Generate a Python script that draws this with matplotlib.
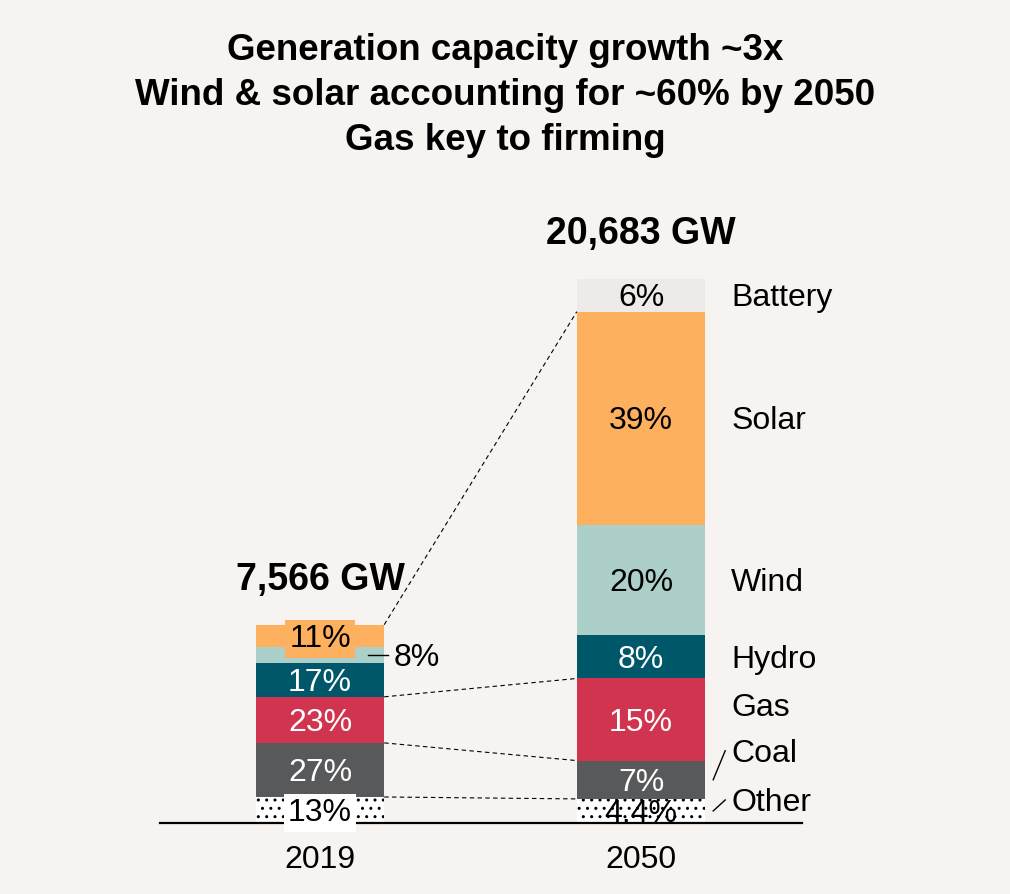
import matplotlib.pyplot as plt

plt.rcParams["font.family"] = ["Liberation Sans", "DejaVu Sans"]

BG = "#F6F3F0"

# chart data
years = ["2019", "2050"]
totals_gw = [7566, 20683]
total_labels = ["7,566 GW", "20,683 GW"]
categories = ["Other", "Coal", "Gas", "Hydro", "Wind", "Solar", "Battery"]
share_2019 = [13, 27, 23, 17, 8, 11, 0]
share_2050 = [4.4, 7, 15, 8, 20, 39, 6]
labels_2019 = ["13%", "27%", "23%", "17%", "8%", "11%", ""]
labels_2050 = ["4.4%", "7%", "15%", "8%", "20%", "39%", "6%"]
title_lines = [
    "Generation capacity growth ~3x",
    "Wind & solar accounting for ~60% by 2050",
    "Gas key to firming",
]

colors = {
    "Other": "white",
    "Coal": "#58595B",
    "Gas": "#D1344F",
    "Hydro": "#00576A",
    "Wind": "#ADCFC9",
    "Solar": "#FDB05E",
    "Battery": "#EEEAE7",
}
white_text = {"Coal", "Gas", "Hydro"}
# boundaries joined by dashed lines between the two bars (top of these segments)
linked = ["Other", "Coal", "Gas", "Solar"]
# vertical nudge (px) of the right-hand category labels
label_nudge_px = {"Gas": 15, "Coal": 29, "Other": 11}

W = 0.4
FS = 23
YMAX = 23800

fig = plt.figure(figsize=(10.1, 8.94), dpi=100, facecolor=BG)
ax = fig.add_axes([159.5 / 1010, 71 / 894, 642 / 1010, 630 / 894])
ax.patch.set_visible(False)
ax.set_xlim(-0.5, 1.5)
ax.set_ylim(0, YMAX)
gw_per_px = YMAX / 630.0
x_per_px = 2.0 / 642.0
dy_txt = -3 * gw_per_px  # centre the digits rather than the text box

tops = []
centers = []
for i, (shares, labels) in enumerate(zip([share_2019, share_2050], [labels_2019, labels_2050])):
    bottom = 0.0
    t, c = {}, {}
    for cat, s, lab in zip(categories, shares, labels):
        h = totals_gw[i] * s / 100.0
        if h <= 0:
            continue
        ax.bar(i, h, W, bottom=bottom, color=colors[cat], edgecolor="black",
               linewidth=0, hatch=".." if cat == "Other" else None, zorder=2)
        t[cat] = bottom + h
        c[cat] = bottom + h / 2
        bottom += h
    tops.append(t)
    centers.append(c)
    ax.annotate(total_labels[i], xy=(i, bottom), xytext=(0, 32), textcoords="offset points",
                ha="center", va="center", fontsize=27, fontweight="bold")

# segment labels
for i, labels in enumerate([labels_2019, labels_2050]):
    for cat, lab in zip(categories, labels):
        if not lab:
            continue
        y = centers[i][cat]
        col = "white" if cat in white_text else "black"
        if i == 0 and cat == "Wind":
            ax.plot([i + 0.2 - 16 * x_per_px, i + 0.2 + 4 * x_per_px], [y, y],
                    color="black", lw=1, zorder=4)
            ax.text(i + 0.2 + 9 * x_per_px, y + dy_txt, lab, ha="left", va="center",
                    fontsize=FS, color="black", zorder=5)
            continue
        box = None
        if i == 0 and cat in ("Other", "Solar"):
            box = dict(boxstyle="square,pad=0.12", facecolor=colors[cat], edgecolor="none")
        ax.text(i, y + dy_txt, lab, ha="center", va="center", fontsize=FS, color=col,
                bbox=box, zorder=5)

# dashed connectors between bars
for cat in linked:
    ax.plot([W / 2, 1 - W / 2], [tops[0][cat], tops[1][cat]], color="black",
            lw=0.8, ls=(0, (4, 3)), zorder=3)

# category names on the right of the 2050 bar
x_lab = 1 + W / 2 + 26 * x_per_px
for cat in categories:
    yc = centers[1][cat]
    yl = yc + label_nudge_px.get(cat, 0) * gw_per_px
    ax.text(x_lab, yl + dy_txt, cat, ha="left", va="center", fontsize=FS, zorder=5)
    if cat in ("Coal", "Other"):
        x0 = 1 + W / 2 + 8 * x_per_px
        x1 = 1 + W / 2 + 20 * x_per_px
        ax.plot([x0, x1], [yc, yl], color="black", lw=1, zorder=4, clip_on=False)

ax.set_xticks([0, 1], years)
ax.tick_params(axis="x", length=0, pad=16, labelsize=FS)
ax.set_yticks([])
for side in ("left", "right", "top"):
    ax.spines[side].set_visible(False)
ax.spines["bottom"].set_linewidth(1.6)
ax.spines["bottom"].set_zorder(4)

for k, line in enumerate(title_lines):
    fig.text(0.5, 1 - (51 + 44.5 * k) / 894, line, ha="center", va="center",
             fontsize=26.5, fontweight="bold")

fig.savefig("out.png", dpi=100, facecolor=BG)
